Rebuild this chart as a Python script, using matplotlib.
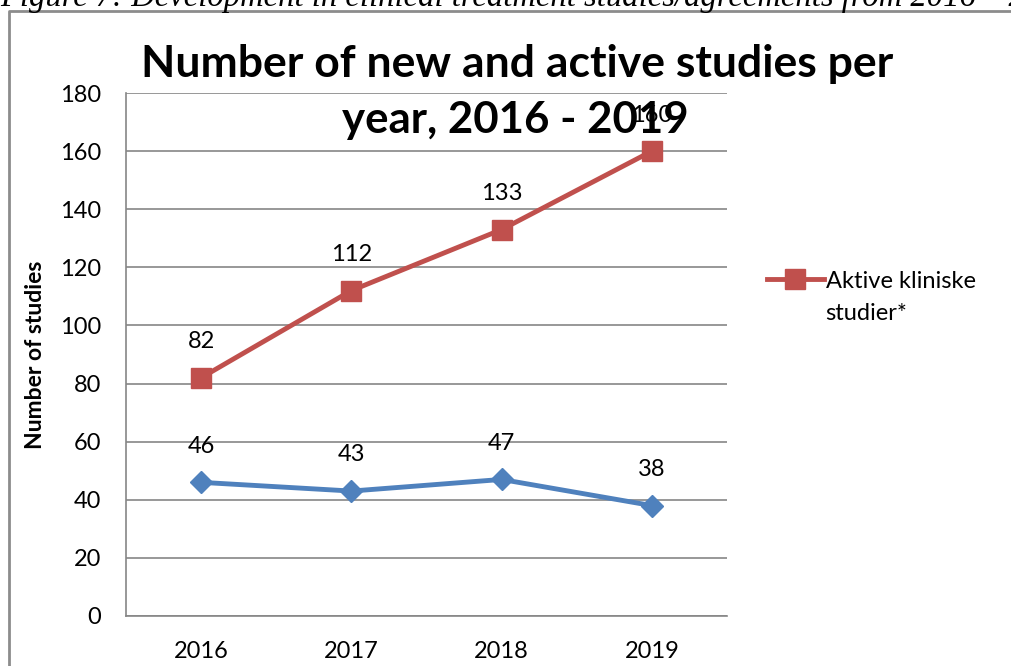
import matplotlib.pyplot as plt
from matplotlib.lines import Line2D

years = ["2016", "2017", "2018", "2019"]
new_studies = [46, 43, 47, 38]
active_studies = [82, 112, 133, 160]
y_ticks = [0, 20, 40, 60, 80, 100, 120, 140, 160, 180]

W, H = 1011, 666
fig = plt.figure(figsize=(W / 100, H / 100), dpi=100)
plt.rcParams['font.family'] = ['Lato', 'DejaVu Sans']


def px(x, y):
    return x / W, 1 - y / H


# outer chart frame, runs off the right and bottom edges
fig.add_artist(Line2D([9 / W, 9 / W, 1.0], [0.0, 1 - 11 / H, 1 - 11 / H],
                      transform=fig.transFigure, color='#8c8c8c', lw=2))

# caption above the chart, mostly cut off at the top
fig.text(0.0, 1 - 6 / H, "Figure 7: Development in clinical treatment studies/agreements from 2016 \u2013 2019",
         family='Liberation Serif', style='italic', fontsize=23.5, ha='left', va='baseline')

left, top, right, bottom = 126, 93, 727, 616
ax = fig.add_axes([left / W, 1 - bottom / H, (right - left) / W, (bottom - top) / H])
x = range(len(years))

ax.plot(x, new_studies, color='#4F81BD', lw=3.5, marker='D', markersize=11, zorder=3,
        label='Nye kliniske studier')
ax.plot(x, active_studies, color='#C0504D', lw=3.5, marker='s', markersize=14, zorder=3,
        label='Aktive kliniske')

for xi, v in zip(x, new_studies):
    ax.annotate(str(v), (xi, v), xytext=(0, 26), textcoords='offset points',
                ha='center', va='center', fontsize=17, annotation_clip=False)
for xi, v in zip(x, active_studies):
    ax.annotate(str(v), (xi, v), xytext=(0, 26), textcoords='offset points',
                ha='center', va='center', fontsize=17, annotation_clip=False, zorder=1)

ax.set_xlim(-0.5, 3.5)
ax.set_ylim(0, 180)
ax.set_xticks(list(x))
ax.set_xticklabels(years)
ax.set_yticks(y_ticks)
ax.tick_params(axis='y', length=0, labelsize=17, pad=18)
ax.tick_params(axis='x', length=0, labelsize=17, pad=18)
ax.yaxis.grid(True, color='#868686', lw=1.2)
ax.set_axisbelow(True)
for s in ['top', 'right']:
    ax.spines[s].set_visible(False)
for s in ['left', 'bottom']:
    ax.spines[s].set_color('#868686')
    ax.spines[s].set_linewidth(1.2)
ax.set_ylabel('Number of studies', fontsize=16.5, fontweight='bold', labelpad=10)

# legend key on the first line, wrapped remainder of the label below it
h, l = ax.get_legend_handles_labels()
fig.legend([h[1]], [l[1]], loc='center left', bbox_to_anchor=px(767, 281), frameon=False,
           fontsize=17, handlelength=2.4, handletextpad=0.1, borderpad=0, borderaxespad=0)
fig.text(*px(825, 313), "studier*", fontsize=17, ha='left', va='center')

fig.text(*px(517, 64), "Number of new and active studies per", fontsize=32, fontweight='bold',
         ha='center', va='center')
fig.text(*px(515, 120), "year, 2016 - 2019", fontsize=31.5, fontweight='bold',
         ha='center', va='center')

fig.savefig('out.png', dpi=100)
